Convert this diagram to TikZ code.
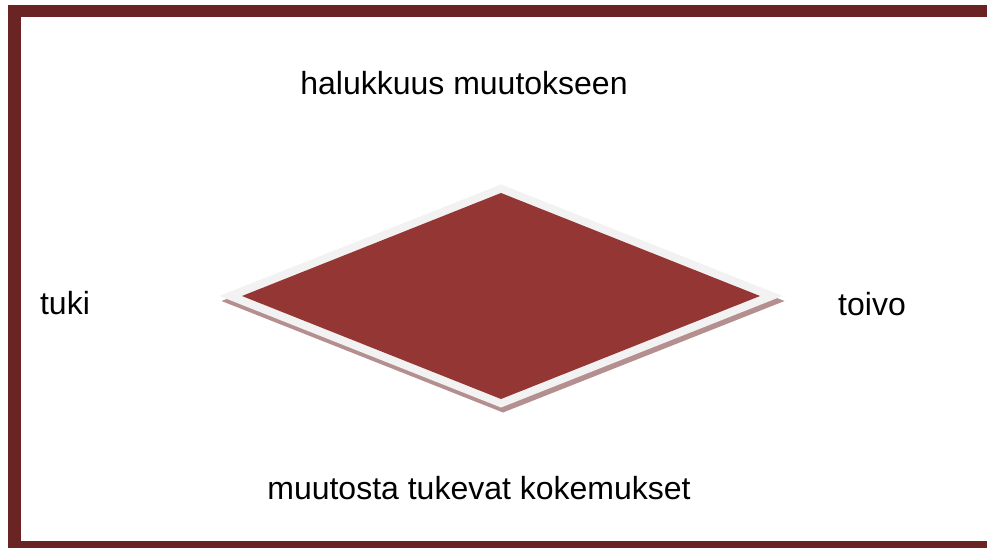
\documentclass[tikz,border=0pt]{standalone}
\usepackage{fontspec}
\setmainfont{Liberation Sans}
\usetikzlibrary{shapes.geometric, positioning}
\definecolor{framered}{HTML}{6B2424}
\definecolor{corered}{HTML}{943634}
\definecolor{rimgray}{HTML}{F2F2F2}
\definecolor{shadowred}{HTML}{B58F8F}
\tikzset{
    frame/.style={draw=framered, line width=12.5pt},
    rim/.style={diamond, inner sep=0pt, outer sep=0pt, minimum width=563pt, minimum height=223pt, fill=rimgray},
    core/.style={diamond, inner sep=0pt, outer sep=0pt, minimum width=518pt, minimum height=206pt, fill=corered},
    label/.style={anchor=base, inner sep=0pt, font=\fontsize{32}{38}\selectfont}
}

\begin{document}
\begin{tikzpicture}[x=1pt, y=-1pt]
    \clip (0,0) rectangle (987,548);
    \fill [white] (0,0) rectangle (987,548);
    \draw [frame] (14.5,11.2) rectangle (1000,547.2);

    % the diamond with its light rim and shadow
    \node [rim, fill=shadowred] (shade) at (503,301) {};
    \node [rim] (outer) at (501,296) {};
    \node [core] (inner) at (501,296) {};

    \node [label] (top) at (464,95) {halukkuus muutokseen};
    \node [label] (left) at (65,314) {tuki};
    \node [label] (right) at (872,315) {toivo};
    \node [label] (bottom) at (479,499) {muutosta tukevat kokemukset};
\end{tikzpicture}
\end{document}
